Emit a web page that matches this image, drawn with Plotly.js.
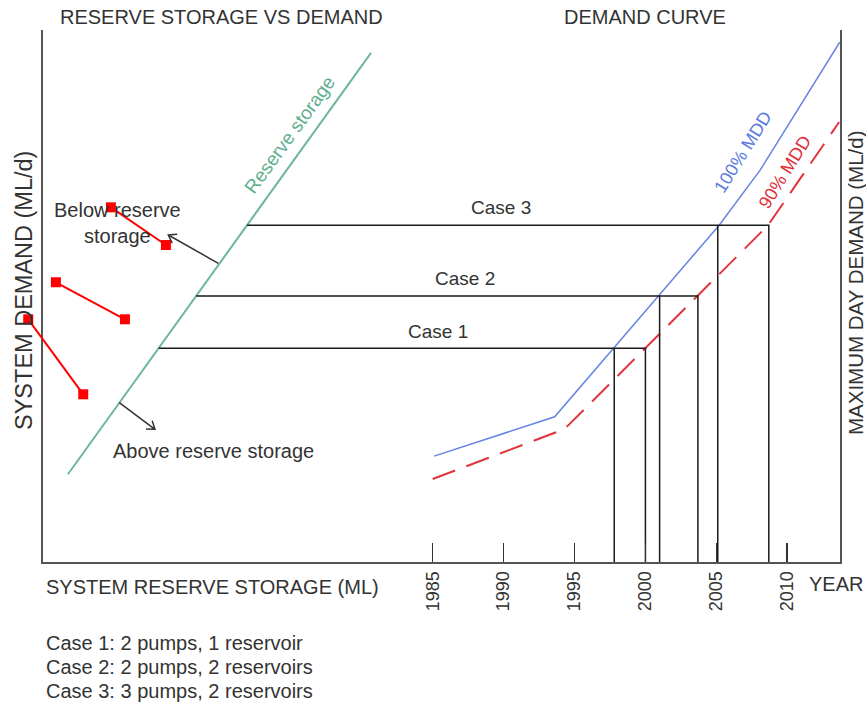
<!DOCTYPE html>
<html>
<head>
<meta charset="utf-8">
<script src="https://cdn.plot.ly/plotly-3.0.1.min.js"></script>
<style>html,body{margin:0;padding:0;background:#fff;}#chart{width:866px;height:704px;}</style>
</head>
<body>
<div id="chart"></div>
<script>
// ---------- data ----------
const years = [1985, 1990, 1995, 2000, 2005, 2010];
const storageX = [1959.28, 1980.65];
const storageY = [16.5, 95.7];
const mdd100X = [1985.1, 1993.6, 2005.2, 2008.1, 2013.7];
const mdd100Y = [19.9, 27.3, 63.3, 73.7, 97.7];
const mdd90X = [1985.0, 1994.3, 2008.65, 2013.66];
const mdd90Y = [15.6, 25.0, 63.3, 82.7];
const caseNames = ['Case 1', 'Case 2', 'Case 3'];
const caseDemand = [40.2, 50.0, 63.3];
const caseYear100 = [1997.8, 2001.0, 2005.1];
const caseYear90 = [2000.0, 2003.7, 2008.7];
const caseNotes = ['Case 1: 2 pumps, 1 reservoir', 'Case 2: 2 pumps, 2 reservoirs', 'Case 3: 3 pumps, 2 reservoirs'];
const redMarkX = [1962.31, 1966.19, null, 1958.43, 1963.30, null, 1956.48, 1960.36];
const redMarkY = [66.67, 59.59, null, 52.58, 45.62, null, 45.62, 31.52];

// ---------- helpers ----------
const W = 866, H = 704;
const FONT = 'Arial, "Liberation Sans", sans-serif';
const TXT = '#333333';
const px = v => v / W;
const py = v => 1 - v / H;
function storageXAt(d) {
  return storageX[0] + (d - storageY[0]) * (storageX[1] - storageX[0]) / (storageY[1] - storageY[0]);
}
function arrowPath(x0, y0, x1, y1) {
  const dx = x0 - x1, dy = y0 - y1, L = Math.hypot(dx, dy);
  const bx = dx / L, by = dy / L, a = 35 * Math.PI / 180, len = 9;
  const r1 = [bx * Math.cos(a) - by * Math.sin(a), bx * Math.sin(a) + by * Math.cos(a)];
  const r2 = [bx * Math.cos(a) + by * Math.sin(a), -bx * Math.sin(a) + by * Math.cos(a)];
  const p = (x, y) => px(x).toFixed(5) + ',' + py(y).toFixed(5);
  return 'M' + p(x0, y0) + ' L' + p(x1, y1) +
    ' M' + p(x1 + r1[0] * len, y1 + r1[1] * len) + ' L' + p(x1, y1) +
    ' L' + p(x1 + r2[0] * len, y1 + r2[1] * len);
}

// ---------- traces ----------
const traces = [];
traces.push({x: storageX, y: storageY, mode: 'lines', line: {color: '#6db59b', width: 2}, hoverinfo: 'skip'});
traces.push({x: mdd100X, y: mdd100Y, mode: 'lines', line: {color: '#6683e3', width: 1.5}, hoverinfo: 'skip'});
traces.push({x: mdd90X, y: mdd90Y, mode: 'lines', line: {color: '#e2343e', width: 2, dash: '24px,12px'}, hoverinfo: 'skip'});
for (let i = 0; i < caseNames.length; i++) {
  const d = caseDemand[i];
  traces.push({
    x: [storageXAt(d), caseYear90[i], caseYear90[i], null, caseYear100[i], caseYear100[i]],
    y: [d, d, 0, null, d, 0],
    mode: 'lines', line: {color: '#1a1a1a', width: 1.5}, hoverinfo: 'skip'
  });
}
// dummy trace to bring right axis
traces.push({x: [years[0]], y: [0], yaxis: 'y3', mode: 'markers', marker: {opacity: 0}, hoverinfo: 'skip'});
// red marks (wider overlay subplot)
traces.push({x: redMarkX, y: redMarkY, xaxis: 'x2', yaxis: 'y2', mode: 'lines+markers',
  line: {color: '#ff0000', width: 2}, marker: {symbol: 'square', size: 10, color: '#ff0000'},
  connectgaps: false, hoverinfo: 'skip'});

// ---------- annotations ----------
const ann = [];
function txt(text, x, y, opt) {
  ann.push(Object.assign({text: text, x: px(x), y: py(y), xref: 'paper', yref: 'paper',
    showarrow: false, xanchor: 'center', yanchor: 'middle',
    font: {family: FONT, size: 20, color: TXT}}, opt || {}));
}
txt('RESERVE STORAGE VS DEMAND', 221.5, 17, {font: {family: FONT, size: 20, color: TXT}});
txt('DEMAND CURVE', 644.5, 17);
txt('SYSTEM RESERVE STORAGE (ML)', 44, 587, {xanchor: 'left'});
txt('YEAR', 807, 584, {xanchor: 'left'});
txt('SYSTEM DEMAND (ML/d)', 24, 291, {textangle: -90, font: {family: FONT, size: 23.5, color: TXT}});
txt('MAXIMUM DAY DEMAND (ML/d)', 855, 283, {textangle: -90, font: {family: FONT, size: 20.5, color: TXT}});
txt('Below reserve<br>storage', 117, 223, {font: {family: FONT, size: 20, color: TXT}});
txt('Above reserve storage', 213, 451);
txt('Reserve storage', 289, 135, {textangle: -54, font: {family: FONT, size: 19, color: '#5fae8f'}});
txt('100% MDD', 743, 152, {textangle: -58, font: {family: FONT, size: 18, color: '#5b7be0'}});
txt('90% MDD', 785, 172, {textangle: -58, font: {family: FONT, size: 18, color: '#e0303a'}});
const caseLabelPos = [[438, 331], [465, 278], [501, 208]];
for (let i = 0; i < caseNames.length; i++) {
  txt(caseNames[i], caseLabelPos[i][0], caseLabelPos[i][1], {font: {family: FONT, size: 19, color: TXT}});
}
for (let i = 0; i < caseNotes.length; i++) {
  txt(caseNotes[i], 44, 643 + 24 * i, {xanchor: 'left'});
}

const shapes = [
  {type: 'path', xref: 'paper', yref: 'paper', path: arrowPath(218.3, 263.3, 168.3, 235), line: {color: '#333', width: 1.5}},
  {type: 'path', xref: 'paper', yref: 'paper', path: arrowPath(119.3, 402.7, 155, 429.3), line: {color: '#333', width: 1.5}}
];

const yDom = [(H - 562) / H, (H - 30) / H];
const layout = {
  width: W, height: H,
  margin: {l: 0, r: 0, t: 0, b: 0, pad: 0},
  paper_bgcolor: '#ffffff', plot_bgcolor: 'rgba(0,0,0,0)',
  showlegend: false,
  font: {family: FONT, color: TXT},
  xaxis: {domain: [43 / W, 840 / W], range: [1957.52, 2013.72], anchor: 'y',
    tickmode: 'array', tickvals: years, ticktext: years.map(String),
    ticks: 'inside', ticklen: 19, tickwidth: 1.5, tickcolor: '#333',
    tickangle: -90, tickfont: {family: FONT, size: 18, color: TXT},
    showline: true, linecolor: '#555', linewidth: 2, showgrid: false, zeroline: false, fixedrange: true},
  yaxis: {domain: yDom, range: [0, 100], anchor: 'x', showline: true, linecolor: '#555', linewidth: 2,
    showticklabels: false, ticks: '', showgrid: false, zeroline: false, fixedrange: true},
  yaxis3: {overlaying: 'y', side: 'right', anchor: 'x', range: [0, 100], showline: true, linecolor: '#555', linewidth: 2,
    showticklabels: false, ticks: '', showgrid: false, zeroline: false, fixedrange: true},
  xaxis2: {domain: [0, 840 / W], range: [1954.49, 2013.72], anchor: 'y2', visible: false, fixedrange: true},
  yaxis2: {domain: yDom, range: [0, 100], anchor: 'x2', visible: false, fixedrange: true},
  annotations: ann,
  shapes: shapes
};

Plotly.newPlot('chart', traces, layout, {displayModeBar: false, staticPlot: true});
</script>
</body>
</html>
